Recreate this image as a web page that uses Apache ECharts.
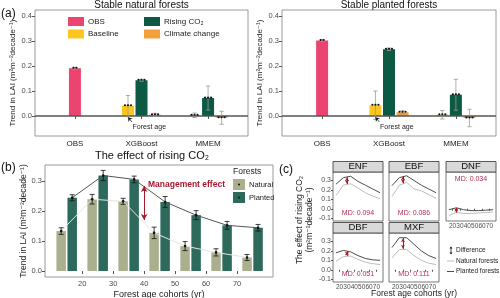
<!DOCTYPE html>
<html>
<head>
<meta charset="utf-8">
<script src="https://cdn.jsdelivr.net/npm/echarts@6.0.0/dist/echarts.min.js"></script>
<style>
  html, body { margin: 0; padding: 0; background: #fff; }
  #chart { width: 500px; height: 298px; }
</style>
</head>
<body>
<div id="chart"></div>
<script>
// ---------- panel (a): stable forests ----------
const methods = ['OBS', 'XGBoost', 'MMEM'];
const natOBS = [0.191, null, null];
const natBase = [null, 0.041, 0.003];
const natCO2 = [null, 0.143, 0.072];
const natClim = [null, 0.005, -0.007];
const natOBSErr = [0.004, null, null];
const natBaseErr = [null, 0.041, 0.009];
const natCO2Err = [null, 0.004, 0.048];
const natClimErr = [null, 0.006, 0.026];

const plaOBS = [0.302, null, null];
const plaBase = [null, 0.043, 0.005];
const plaCO2 = [null, 0.267, 0.085];
const plaClim = [null, 0.015, -0.008];
const plaOBSErr = [0.004, null, null];
const plaBaseErr = [null, 0.057, 0.017];
const plaCO2Err = [null, 0.005, 0.062];
const plaClimErr = [null, 0.006, 0.035];
const yTicksA = [0, 0.1, 0.2, 0.3, 0.4];

// ---------- panel (b): effect of rising CO2 by age cohort ----------
const cohorts = [15, 25, 35, 45, 55, 65, 75];
const natCohort = [0.133, 0.239, 0.232, 0.127, 0.083, 0.062, 0.045];
const natCohortErr = [0.011, 0.016, 0.010, 0.019, 0.015, 0.012, 0.010];
const plaCohort = [0.244, 0.318, 0.305, 0.230, 0.186, 0.152, 0.144];
const plaCohortErr = [0.010, 0.017, 0.011, 0.018, 0.015, 0.013, 0.011];
const ageTicks = [20, 30, 40, 50, 60, 70];
const yTicksB = [0, 0.1, 0.2, 0.3];

// ---------- panel (c): by forest type ----------
const facetNames = ['ENF', 'EBF', 'DNF', 'DBF', 'MXF'];
const mdLabels = ['MD: 0.094', 'MD: 0.086', 'MD: 0.034', 'MD: 0.051', 'MD: 0.111'];
const enfPlanted = [0.26, 0.33, 0.345, 0.29, 0.25, 0.21, 0.17];
const enfNatural = [0.14, 0.25, 0.265, 0.22, 0.17, 0.135, 0.105];
const ebfPlanted = [0.245, 0.33, 0.35, 0.30, 0.25, 0.21, 0.17];
const ebfNatural = [0.13, 0.25, 0.28, 0.21, 0.19, 0.15, 0.11];
const dnfPlanted = [-0.01, 0.01, -0.01, -0.02, -0.02, -0.015, -0.01];
const dnfNatural = [-0.07, -0.04, -0.05, -0.05, -0.045, -0.04, -0.035];
const dbfPlanted = [0.18, 0.205, 0.19, 0.15, 0.12, 0.105, 0.10];
const dbfNatural = [0.09, 0.14, 0.145, 0.11, 0.08, 0.065, 0.055];
const mxfPlanted = [0.235, 0.34, 0.34, 0.27, 0.20, 0.15, 0.12];
const mxfNatural = [0.125, 0.215, 0.215, 0.15, 0.10, 0.07, 0.055];
const arrowAge = [30, 30, 25, 30, 30];
const arrowTop = [0.335, 0.345, 0.01, 0.195, 0.335];
const arrowBottom = [0.262, 0.27, -0.04, 0.148, 0.222];
const yTicksC = [-0.1, 0, 0.1, 0.2, 0.3];

const FONT = "'Liberation Sans', 'DejaVu Sans', sans-serif";
const LAI_TITLE = 'Trend in LAI (m²m⁻²decade⁻¹)';
const COLORS_A = ['#ec4470', '#fbc620', '#0c5a43', '#f2a03c'];
const NAT_COL = '#aab08e';
const PLA_COL = '#2e6a5b';
const RED = '#a8182c';
const DODGE_A = 0.203;   // category units
const DODGE_B = 1.78;    // years

const chart = echarts.init(document.getElementById('chart'), null, { renderer: 'canvas' });

const grids = [], xAxes = [], yAxes = [], series = [], graphics = [];

function gridBox(box) {
  return Object.assign({ show: true, borderColor: '#808080', borderWidth: 0.8,
    backgroundColor: 'transparent', outerBoundsMode: 'none', containLabel: false }, box);
}

function errorBars(cap, color, width, withDot) {
  return function (params, api) {
    const x = api.value(0), y = api.value(1), e = api.value(2);
    const top = api.coord([x, y + e]);
    const bot = api.coord([x, y - e]);
    const mid = api.coord([x, y]);
    const style = { stroke: color, lineWidth: width };
    const children = [
      { type: 'line', shape: { x1: top[0], y1: top[1], x2: bot[0], y2: bot[1] }, style },
      { type: 'line', shape: { x1: top[0] - cap, y1: top[1], x2: top[0] + cap, y2: top[1] }, style },
      { type: 'line', shape: { x1: bot[0] - cap, y1: bot[1], x2: bot[0] + cap, y2: bot[1] }, style }
    ];
    if (withDot) {
      children.push({ type: 'circle', shape: { cx: mid[0], cy: mid[1], r: 1.3 }, style: { fill: '#111' } });
    }
    return { type: 'group', children };
  };
}

function modelDots(params, api) {
  const x = api.value(0), y = api.value(1), n = api.value(2);
  const p = api.coord([x, y]);
  const children = [];
  for (let k = 0; k < n; k++) {
    const dx = (k - (n - 1) / 2) * 3;
    children.push({ type: 'circle', shape: { cx: p[0] + dx, cy: p[1] - 0.5, r: 1.1 }, style: { fill: '#111' } });
  }
  return { type: 'group', children };
}

// ---------- build panel (a) ----------
const aPanels = [
  { box: { left: 35, top: 10, width: 213, height: 126 }, title: 'Stable natural forests',
    vals: [natOBS, natBase, natCO2, natClim], errs: [natOBSErr, natBaseErr, natCO2Err, natClimErr] },
  { box: { left: 282, top: 10, width: 214, height: 126 }, title: 'Stable planted forests',
    vals: [plaOBS, plaBase, plaCO2, plaClim], errs: [plaOBSErr, plaBaseErr, plaCO2Err, plaClimErr] }
];
const groupOffset = [0, -1, 0, 1];
const groupNames = ['OBS', 'Baseline', 'Rising CO₂', 'Climate change'];

aPanels.forEach((pan, pi) => {
  grids.push(gridBox(pan.box));
  xAxes.push({
    type: 'value', gridIndex: pi, min: 0.4, max: 3.6,
    axisLine: { show: false }, splitLine: { show: false },
    axisTick: { show: true, customValues: [1, 2, 3], length: 3, lineStyle: { color: '#555' } },
    axisLabel: { customValues: [1, 2, 3], formatter: v => methods[Math.round(v) - 1],
      fontSize: 8, color: '#222', margin: 4, fontFamily: FONT }
  });
  yAxes.push({
    type: 'value', gridIndex: pi, min: -0.08, max: 0.424,
    axisLine: { show: false }, splitLine: { show: false },
    axisTick: { show: true, customValues: yTicksA, length: 3, lineStyle: { color: '#555' } },
    axisLabel: { customValues: yTicksA, formatter: v => v.toFixed(1), fontSize: 7.5,
      color: '#4d4d4d', margin: 3, fontFamily: FONT },
    name: LAI_TITLE, nameLocation: 'middle', nameGap: 18,
    nameTextStyle: { fontSize: 8, color: '#222', fontFamily: FONT }
  });
  pan.vals.forEach((vals, gi) => {
    const pts = [], errPts = [], dotPts = [];
    vals.forEach((v, i) => {
      if (v == null) return;
      const x = i + 1 + groupOffset[gi] * DODGE_A;
      pts.push([x, v]);
      errPts.push([x, v, pan.errs[gi][i]]);
      dotPts.push([x, v, gi === 0 ? 2 : 3]);
    });
    const s = {
      type: 'bar', name: groupNames[gi], xAxisIndex: pi, yAxisIndex: pi,
      data: pts, barWidth: 12, barGap: '-100%', itemStyle: { color: COLORS_A[gi] }, z: 2
    };
    if (gi === 0) {
      s.markLine = { silent: true, symbol: 'none', label: { show: false },
        lineStyle: { color: '#555', width: 1.6, type: 'solid' }, data: [{ yAxis: 0 }], z: 3 };
    }
    if (gi === 1) {
      const bx = 2 - DODGE_A;
      s.markLine = { silent: true, symbol: ['none', 'arrow'], symbolSize: 4, label: { show: false },
        lineStyle: { color: '#222', width: 0.8, type: 'solid' },
        data: [[{ coord: [bx + 0.06, -0.024] }, { coord: [bx, -0.005] }]] };
    }
    series.push(s);
    series.push({
      type: 'custom', xAxisIndex: pi, yAxisIndex: pi, data: errPts, z: 4,
      renderItem: errorBars(2.2, '#9a9a9a', 0.8, false)
    });
    series.push({
      type: 'custom', xAxisIndex: pi, yAxisIndex: pi, data: dotPts, z: 5,
      renderItem: modelDots
    });
  });
  const cx = pan.box.left + pan.box.width / 2;
  graphics.push({ type: 'text', x: cx, y: 5,
    style: { text: pan.title, font: '10px ' + FONT, fill: '#111', textAlign: 'center', textVerticalAlign: 'middle' } });
  // "Forest age" note under the baseline bar
  graphics.push({ type: 'text', x: pan.box.left + (2 - DODGE_A + 0.32 - 0.4) / 3.2 * pan.box.width, y: 127,
    style: { text: 'Forest age', font: '7px ' + FONT, fill: '#222', textAlign: 'center', textVerticalAlign: 'middle' } });
});

// legend of (a)
const legA = [
  { x: 68, y: 17, i: 0 }, { x: 68, y: 29.5, i: 1 }, { x: 144, y: 17, i: 2 }, { x: 144, y: 29.5, i: 3 }
];
legA.forEach(l => {
  graphics.push({ type: 'rect', shape: { x: l.x, y: l.y, width: 16, height: 9 }, style: { fill: COLORS_A[l.i] } });
  graphics.push({ type: 'text', x: l.x + 20, y: l.y + 4.5,
    style: { text: groupNames[l.i], font: '8px ' + FONT, fill: '#222', textVerticalAlign: 'middle' } });
});

// ---------- build panel (b) ----------
const gB = 2;
const boxB = { left: 45, top: 165, width: 228, height: 112 };
grids.push(gridBox(boxB));
xAxes.push({
  type: 'value', gridIndex: gB, min: 8, max: 81.6,
  axisLine: { show: false }, splitLine: { show: false },
  axisTick: { show: true, customValues: ageTicks, length: 3, lineStyle: { color: '#555' } },
  axisLabel: { customValues: ageTicks, fontSize: 7.5, color: '#4d4d4d', margin: 3, fontFamily: FONT },
  name: 'Forest age cohorts (yr)', nameLocation: 'middle', nameGap: 13,
  nameTextStyle: { fontSize: 9, color: '#222', fontFamily: FONT }
});
yAxes.push({
  type: 'value', gridIndex: gB, min: -0.02, max: 0.353,
  axisLine: { show: false }, splitLine: { show: false },
  axisTick: { show: true, customValues: yTicksB, length: 3, lineStyle: { color: '#555' } },
  axisLabel: { customValues: yTicksB, formatter: v => v.toFixed(1), fontSize: 7.5,
    color: '#4d4d4d', margin: 3, fontFamily: FONT },
  name: LAI_TITLE, nameLocation: 'middle', nameGap: 17,
  nameTextStyle: { fontSize: 8.5, color: '#222', fontFamily: FONT }
});
const natPts = cohorts.map((c, i) => [c - DODGE_B, natCohort[i]]);
const plaPts = cohorts.map((c, i) => [c + DODGE_B, plaCohort[i]]);
series.push({ type: 'bar', name: 'Natural', xAxisIndex: gB, yAxisIndex: gB, data: natPts,
  barWidth: 9.5, barGap: '-100%', itemStyle: { color: NAT_COL }, z: 2 });
series.push({ type: 'bar', name: 'Planted', xAxisIndex: gB, yAxisIndex: gB, data: plaPts,
  barWidth: 9.5, barGap: '-100%', itemStyle: { color: PLA_COL }, z: 2,
  markLine: { silent: true, symbol: ['arrow', 'arrow'], symbolSize: [5, 6], label: { show: false },
    lineStyle: { color: RED, width: 1, type: 'solid' },
    data: [[{ coord: [40, 0.283] }, { coord: [40, 0.17] }]] } });
series.push({ type: 'line', xAxisIndex: gB, yAxisIndex: gB, data: natPts, symbol: 'none',
  lineStyle: { color: '#e4e4e4', width: 1 }, z: 3 });
series.push({ type: 'line', xAxisIndex: gB, yAxisIndex: gB, data: plaPts, symbol: 'none',
  lineStyle: { color: '#555', width: 1 }, z: 3 });
series.push({ type: 'custom', xAxisIndex: gB, yAxisIndex: gB, z: 4,
  data: cohorts.map((c, i) => [c - DODGE_B, natCohort[i], natCohortErr[i]]),
  renderItem: errorBars(2.5, '#111', 0.8, true) });
series.push({ type: 'custom', xAxisIndex: gB, yAxisIndex: gB, z: 4,
  data: cohorts.map((c, i) => [c + DODGE_B, plaCohort[i], plaCohortErr[i]]),
  renderItem: errorBars(2.5, '#111', 0.8, true) });

graphics.push({ type: 'text', x: 152, y: 156,
  style: { text: 'The effect of rising CO₂', font: '11px ' + FONT, fill: '#111', textAlign: 'center', textVerticalAlign: 'middle' } });
graphics.push({ type: 'text', x: 148, y: 185,
  style: { text: 'Management effect', font: 'bold 8.5px ' + FONT, fill: RED, textVerticalAlign: 'middle' } });
// legend of (b)
graphics.push({ type: 'text', x: 233, y: 172,
  style: { text: 'Forests', font: '8.5px ' + FONT, fill: '#222', textVerticalAlign: 'middle' } });
[{ y: 179, c: NAT_COL, t: 'Natural' }, { y: 192, c: PLA_COL, t: 'Planted' }].forEach(l => {
  graphics.push({ type: 'rect', shape: { x: 233, y: l.y, width: 12, height: 11 }, style: { fill: l.c } });
  graphics.push({ type: 'circle', shape: { cx: 239, cy: l.y + 5.5, r: 1 }, style: { fill: '#111' } });
  graphics.push({ type: 'text', x: 249, y: l.y + 5.5,
    style: { text: l.t, font: '7.5px ' + FONT, fill: '#222', textVerticalAlign: 'middle' } });
});

// ---------- build panel (c) ----------
const facetPlanted = [enfPlanted, ebfPlanted, dnfPlanted, dbfPlanted, mxfPlanted];
const facetNatural = [enfNatural, ebfNatural, dnfNatural, dbfNatural, mxfNatural];
const colX = [333, 389, 446];
const rowTop = [172, 233];
const FW = 50, FH = 49, STRIP = 10.5;
const facetPos = [[0, 0], [1, 0], [2, 0], [0, 1], [1, 1]];
facetNames.forEach((name, f) => {
  const gi = 3 + f;
  const [c, r] = facetPos[f];
  const box = { left: colX[c], top: rowTop[r], width: FW, height: FH };
  const showX = (r === 1 || c === 2);
  const showY = (c === 0);
  grids.push(gridBox(Object.assign({ borderColor: '#555' }, box)));
  xAxes.push({
    type: 'value', gridIndex: gi, min: 11, max: 79,
    axisLine: { show: false }, splitLine: { show: false },
    axisTick: { show: showX, customValues: ageTicks, length: 2, lineStyle: { color: '#555' } },
    axisLabel: { show: showX, customValues: ageTicks, fontSize: 6.5, color: '#4d4d4d', margin: 2, fontFamily: FONT }
  });
  yAxes.push({
    type: 'value', gridIndex: gi, min: -0.13, max: 0.39,
    axisLine: { show: false }, splitLine: { show: false },
    axisTick: { show: showY, customValues: yTicksC, length: 2, lineStyle: { color: '#555' } },
    axisLabel: { show: showY, customValues: yTicksC, formatter: v => v.toFixed(1), fontSize: 7,
      color: '#4d4d4d', margin: 2, fontFamily: FONT }
  });
  series.push({ type: 'line', xAxisIndex: gi, yAxisIndex: gi, symbol: 'none',
    data: cohorts.map((a, i) => [a, facetNatural[f][i]]), lineStyle: { color: '#bdbdbd', width: 1 } });
  series.push({ type: 'line', xAxisIndex: gi, yAxisIndex: gi, symbol: 'none',
    data: cohorts.map((a, i) => [a, facetPlanted[f][i]]), lineStyle: { color: '#4d4d4d', width: 1 },
    markLine: { silent: true, symbol: ['arrow', 'arrow'], symbolSize: [3, 4], label: { show: false },
      lineStyle: { color: RED, width: 1, type: 'solid' },
      data: [[{ coord: [arrowAge[f], arrowTop[f]] }, { coord: [arrowAge[f], arrowBottom[f]] }]] } });
  // strip
  graphics.push({ type: 'rect', shape: { x: box.left, y: box.top - STRIP, width: FW, height: STRIP },
    style: { fill: '#d9d9d9', stroke: '#333', lineWidth: 0.8 } });
  graphics.push({ type: 'text', x: box.left + FW / 2, y: box.top - STRIP / 2,
    style: { text: name, font: '9.5px ' + FONT, fill: '#111', textAlign: 'center', textVerticalAlign: 'middle' } });
  graphics.push({ type: 'text', x: box.left + FW / 2, y: f === 2 ? box.top + 7 : box.top + FH - 8,
    style: { text: mdLabels[f], font: '7px ' + FONT, fill: '#b03050', textAlign: 'center', textVerticalAlign: 'middle' } });
});

// axis titles of (c)
graphics.push({ type: 'text', x: 300, y: 220, rotation: Math.PI / 2,
  style: { text: 'The effect of rising CO₂', font: '8.5px ' + FONT, fill: '#222', textAlign: 'center', textVerticalAlign: 'middle' } });
graphics.push({ type: 'text', x: 310, y: 220, rotation: Math.PI / 2,
  style: { text: '(m²m⁻²decade⁻¹)', font: '8.5px ' + FONT, fill: '#222', textAlign: 'center', textVerticalAlign: 'middle' } });
graphics.push({ type: 'text', x: 414, y: 294,
  style: { text: 'Forest age cohorts (yr)', font: '8.5px ' + FONT, fill: '#222', textAlign: 'center', textVerticalAlign: 'middle' } });

// legend of (c)
graphics.push({ type: 'line', shape: { x1: 451, y1: 247, x2: 451, y2: 254 }, style: { stroke: '#222', lineWidth: 0.8 } });
graphics.push({ type: 'polygon', shape: { points: [[449.5, 248.5], [452.5, 248.5], [451, 246.5]] }, style: { fill: '#222' } });
graphics.push({ type: 'polygon', shape: { points: [[449.5, 252.5], [452.5, 252.5], [451, 254.5]] }, style: { fill: '#222' } });
graphics.push({ type: 'text', x: 456, y: 250.5,
  style: { text: 'Difference', font: '6.5px ' + FONT, fill: '#222', textVerticalAlign: 'middle' } });
[{ y: 261, c: '#bdbdbd', t: 'Natural forests' }, { y: 271.5, c: '#4d4d4d', t: 'Planted forests' }].forEach(l => {
  graphics.push({ type: 'line', shape: { x1: 447, y1: l.y, x2: 454, y2: l.y }, style: { stroke: l.c, lineWidth: 1 } });
  graphics.push({ type: 'text', x: 456, y: l.y,
    style: { text: l.t, font: '6.5px ' + FONT, fill: '#222', textVerticalAlign: 'middle' } });
});

// panel letters
[['(a)', 1, 14], ['(b)', 1, 168], ['(c)', 279, 170]].forEach(p => {
  graphics.push({ type: 'text', x: p[1], y: p[2],
    style: { text: p[0], font: '12px ' + FONT, fill: '#111', textVerticalAlign: 'middle' } });
});

chart.setOption({
  animation: false,
  backgroundColor: '#fff',
  textStyle: { fontFamily: FONT },
  grid: grids,
  xAxis: xAxes,
  yAxis: yAxes,
  series: series,
  graphic: { elements: graphics }
});
</script>
</body>
</html>
